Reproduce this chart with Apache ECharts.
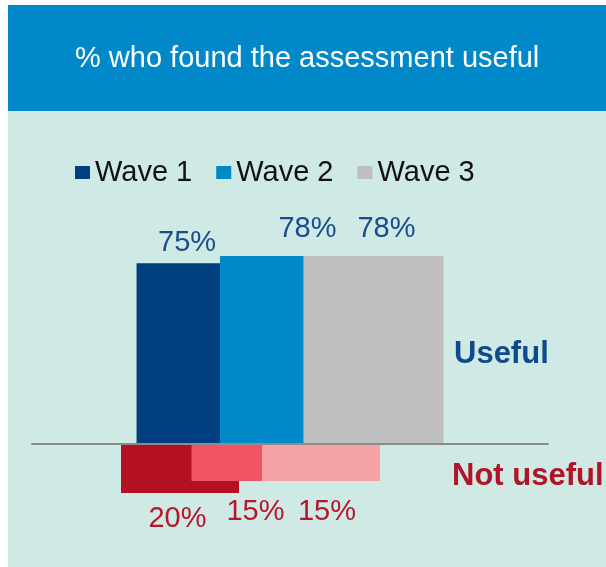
<!DOCTYPE html>
<html>
<head>
<meta charset="utf-8">
<script src="https://cdn.jsdelivr.net/npm/echarts@6/dist/echarts.min.js"></script>
<style>
html,body{margin:0;padding:0;background:#fff;}
#chart{width:606px;height:567px;}
</style>
</head>
<body>
<div id="chart"></div>
<script>
// ---- data ----
const categories = ['Assessment'];
const waves = ['Wave 1', 'Wave 2', 'Wave 3'];
const usefulValues = [75, 78, 78];
const notUsefulValues = [20, 15, 15];
const titleText = '% who found the assessment useful';
const usefulText = 'Useful';
const notUsefulText = 'Not useful';

// ---- styles ----
const FONT = '"Liberation Sans", Arial, sans-serif';
const usefulColors = ['#003F80', '#0088C8', '#BFBFBF'];
const notUsefulColors = ['#B31122', '#F25466', '#F4A2A3'];
const usefulLabelOffsets = [[-19.5, -0.5], [17.5, -8], [13, -8]];
const notUsefulLabelOffsets = [[-2.5, 6.5], [5, 11], [6, 11]];

const series = [];
waves.forEach((w, i) => {
  series.push({
    name: w, type: 'bar', xAxisIndex: 0, yAxisIndex: 0,
    data: [usefulValues[i]],
    barWidth: 140, barGap: '-40.4%',
    itemStyle: { color: usefulColors[i] },
    label: {
      show: true, position: 'top', distance: 5,
      offset: usefulLabelOffsets[i],
      formatter: '{c}%', color: '#1A4D8E', fontSize: 29, fontFamily: FONT
    }
  });
});
waves.forEach((w, i) => {
  series.push({
    name: w, type: 'bar', xAxisIndex: 1, yAxisIndex: 1,
    data: [notUsefulValues[i]],
    barWidth: 118, barGap: '-40.25%',
    itemStyle: { color: notUsefulColors[i] },
    label: {
      show: true, position: 'bottom', distance: 5,
      offset: notUsefulLabelOffsets[i],
      formatter: '{c}%', color: '#B5172B', fontSize: 29, fontFamily: FONT
    }
  });
});

const chart = echarts.init(document.getElementById('chart'), null, { renderer: 'canvas' });
chart.setOption({
  animation: false,
  backgroundColor: '#ffffff',
  textStyle: { fontFamily: FONT },
  graphic: [
    { type: 'rect', z: -10, shape: { x: 8, y: 5, width: 598, height: 106 }, style: { fill: '#0088C8' } },
    { type: 'rect', z: -10, shape: { x: 8, y: 111, width: 598, height: 456 }, style: { fill: '#CFE9E5' } },
    { type: 'text', z: 10, left: 454, top: 339, style: { text: usefulText, fill: '#0E4A8C', font: 'bold 31px ' + FONT } },
    { type: 'text', z: 10, left: 452, top: 461, style: { text: notUsefulText, fill: '#B01427', font: 'bold 31px ' + FONT } }
  ],
  title: {
    text: titleText, left: 75, top: 44, padding: 0,
    textStyle: { color: '#ffffff', fontSize: 29, fontWeight: 'normal', fontFamily: FONT }
  },
  legend: {
    data: waves, left: 75, top: 158, padding: 0,
    icon: 'rect', itemWidth: 15, itemHeight: 13, itemGap: 24,
    textStyle: { color: '#111111', fontSize: 29, fontFamily: FONT }
  },
  grid: [
    { left: 32, right: 58, top: 251.17949, bottom: 123 },
    { left: 32, right: 137, top: 445, bottom: 62 }
  ],
  xAxis: [
    { type: 'category', gridIndex: 0, data: categories, z: 5,
      axisLine: { show: true, lineStyle: { color: '#8C8C8C', width: 2 } },
      axisTick: { show: false }, axisLabel: { show: false } },
    { type: 'category', gridIndex: 1, data: categories,
      axisLine: { show: false }, axisTick: { show: false }, axisLabel: { show: false } }
  ],
  yAxis: [
    { type: 'value', gridIndex: 0, min: 0, max: 80, show: false, splitLine: { show: false } },
    { type: 'value', gridIndex: 1, min: 0, max: 25, inverse: true, show: false, splitLine: { show: false } }
  ],
  series: series
});
</script>
</body>
</html>
